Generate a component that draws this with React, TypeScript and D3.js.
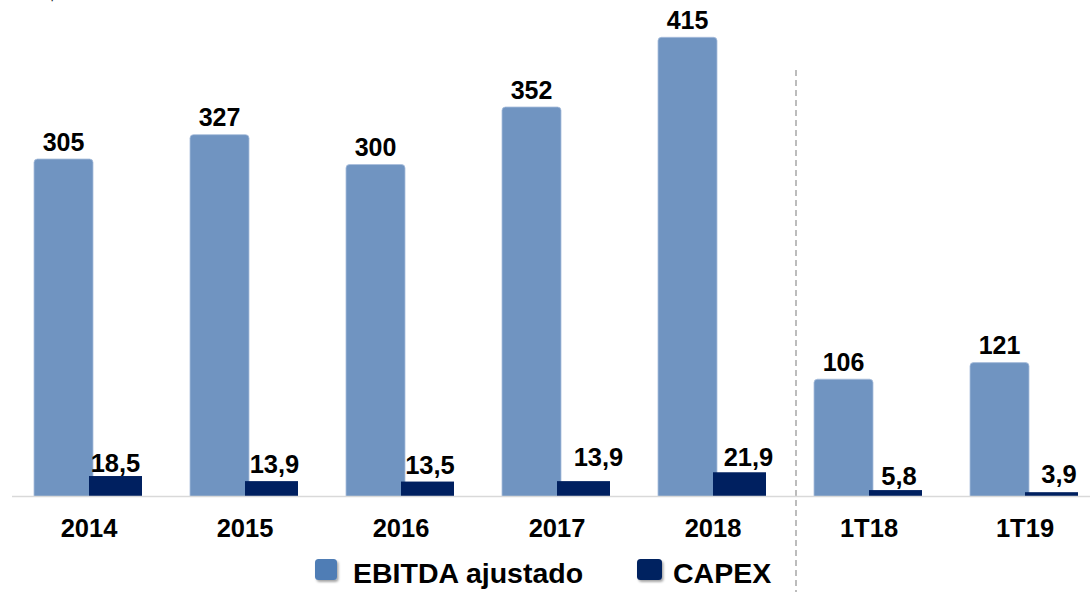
import React, { useEffect, useRef } from 'react';
import * as d3 from 'd3';

// categories and values
const categories = ['2014', '2015', '2016', '2017', '2018', '1T18', '1T19'];
const ebitda = [305, 327, 300, 352, 415, 106, 121];
const capex = [18.5, 13.9, 13.5, 13.9, 21.9, 5.8, 3.9];
const capexLabels = ['18,5', '13,9', '13,5', '13,9', '21,9', '5,8', '3,9'];
const seriesNames = ['EBITDA ajustado', 'CAPEX'];

// small label nudges (dx, gap above bar) as in the original slide
const capexNudgeX = [0, 3, 2.5, 15, 9, 3.5, 7.5];
const capexGap = [4, 8, 8, 15, 6, 5, 9];

const W = 1090;
const H = 592;
const FONT = 'Arial, "Liberation Sans", Helvetica, sans-serif';
const LIGHT = '#7094c1';
const DARK = '#002060';

const topRounded = (x: number, y: number, w: number, h: number, r: number) => {
    const rr = Math.min(r, h / 2, w / 2);
    return `M${x},${y + h}V${y + rr}Q${x},${y} ${x + rr},${y}H${x + w - rr}Q${x + w},${y} ${x + w},${y + rr}V${y + h}Z`;
};

export default function App() {
    const svgRef = useRef<SVGSVGElement>(null);

    useEffect(() => {
        const svg = d3.select(svgRef.current);
        svg.selectAll('*').remove();

        const baseY = 496.5;
        const x = d3.scaleBand().domain(categories).range([12, 12 + categories.length * 156]).padding(0);
        const y = d3.scaleLinear().domain([0, 415]).range([baseY, 37.3]);

        const defs = svg.append('defs');
        const f = defs.append('filter').attr('id', 'sh').attr('x', '-30%').attr('y', '-30%').attr('width', '160%').attr('height', '160%');
        f.append('feDropShadow').attr('dx', 1.5).attr('dy', 2).attr('stdDeviation', 1.2).attr('flood-color', '#000').attr('flood-opacity', 0.35);

        // unit text, cropped at the top edge like the source slide
        svg.append('text')
            .attr('x', 30).attr('y', -1)
            .style('font-family', FONT).style('font-size', '22px').style('font-weight', 'bold')
            .attr('fill', '#222')
            .text('R$ milhões');

        // separator between years and quarters
        const sepX = (x('1T18') as number) + 4;
        svg.append('line')
            .attr('x1', sepX).attr('x2', sepX).attr('y1', 70).attr('y2', H)
            .attr('stroke', '#a6a6a6').attr('stroke-width', 1.5).attr('stroke-dasharray', '6,4');

        const g = svg.append('g');

        // EBITDA bars
        g.selectAll('path.eb')
            .data(categories)
            .join('path')
            .attr('class', 'eb')
            .attr('d', (c, i) => topRounded((x(c) as number) + 22, y(ebitda[i]), 59, baseY - y(ebitda[i]), 3.5))
            .attr('fill', LIGHT)
            .attr('stroke', '#a8bedc')
            .attr('stroke-width', 0.8);

        // CAPEX bars
        g.selectAll('rect.cx')
            .data(categories)
            .join('rect')
            .attr('class', 'cx')
            .attr('x', (c) => (x(c) as number) + 77)
            .attr('y', (c, i) => y(capex[i]))
            .attr('width', 53)
            .attr('height', (c, i) => baseY - y(capex[i]))
            .attr('fill', DARK);

        // axis line
        svg.append('line')
            .attr('x1', 12).attr('x2', W).attr('y1', baseY).attr('y2', baseY)
            .attr('stroke', '#d9d9d9').attr('stroke-width', 1.5);

        // EBITDA labels
        g.selectAll('text.el')
            .data(categories)
            .join('text')
            .attr('class', 'el')
            .attr('x', (c) => (x(c) as number) + 22 + 29.5)
            .attr('y', (c, i) => y(ebitda[i]) - 8.5)
            .attr('text-anchor', 'middle')
            .style('font-family', FONT).style('font-size', '25px').style('font-weight', 'bold')
            .attr('fill', '#000')
            .text((c, i) => String(ebitda[i]));

        // CAPEX labels
        g.selectAll('text.cl')
            .data(categories)
            .join('text')
            .attr('class', 'cl')
            .attr('x', (c, i) => (x(c) as number) + 77 + 26.5 + capexNudgeX[i])
            .attr('y', (c, i) => y(capex[i]) - capexGap[i])
            .attr('text-anchor', 'middle')
            .style('font-family', FONT).style('font-size', '25.5px').style('font-weight', 'bold')
            .attr('fill', '#000')
            .text((c, i) => capexLabels[i]);

        // category labels
        g.selectAll('text.cat')
            .data(categories)
            .join('text')
            .attr('class', 'cat')
            .attr('x', (c) => (x(c) as number) + 77)
            .attr('y', 537)
            .attr('text-anchor', 'middle')
            .style('font-family', FONT).style('font-size', '25.5px').style('font-weight', 'bold')
            .attr('fill', '#000')
            .text((c) => c);

        // legend
        const legend = [
            { name: seriesNames[0], color: '#4f7db5', sx: 315, sw: 22, tx: 353 },
            { name: seriesNames[1], color: DARK, sx: 637, sw: 25, tx: 673 },
        ];
        const lg = svg.append('g');
        legend.forEach((d) => {
            lg.append('rect')
                .attr('x', d.sx).attr('y', 559).attr('width', d.sw).attr('height', 21).attr('rx', 3.5)
                .attr('fill', d.color).attr('filter', 'url(#sh)');
            lg.append('text')
                .attr('x', d.tx).attr('y', 583)
                .style('font-family', FONT).style('font-size', '28.5px').style('font-weight', 'bold')
                .attr('fill', '#000')
                .text(d.name);
        });
    }, []);

    return (
        <svg
            ref={svgRef}
            width={W}
            height={H}
            style={{ position: 'absolute', left: 0, top: 0, background: '#fff' }}
        />
    );
}
